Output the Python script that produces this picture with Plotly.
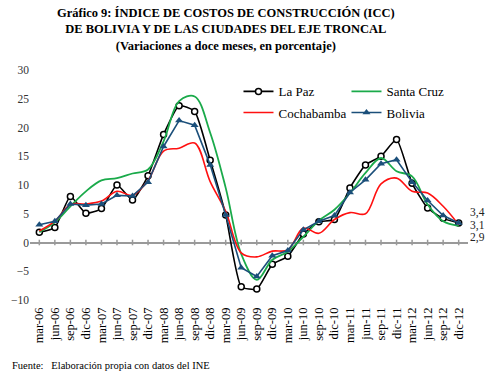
import plotly.graph_objects as go

periods = ["mar-06","jun-06","sep-06","dic-06","mar-07","jun-07","sep-07","dic-07",
           "mar-08","jun-08","sep-08","dic-08","mar-09","jun-09","sep-09","dic-09",
           "mar-10","jun-10","sep-10","dic-10","mar-11","jun-11","sep-11","dic-11",
           "mar-12","jun-12","sep-12","dic-12"]

la_paz = [1.8, 2.6, 8.0, 5.1, 5.9, 10.0, 7.4, 11.6, 18.8, 23.8, 22.8, 14.3, 4.8, -7.7,
          -8.1, -3.8, -2.4, 1.5, 3.6, 4.0, 9.5, 13.5, 15.0, 17.9, 10.3, 6.0, 4.2, 3.4]
santa_cruz = [1.8, 3.5, 6.3, 8.9, 10.8, 11.2, 12.0, 12.7, 17.6, 24.6, 25.4, 19.1, 9.5, -2.0,
              -6.5, -3.0, -1.6, 1.0, 3.8, 5.7, 8.6, 12.1, 14.7, 12.4, 11.5, 6.6, 3.7, 2.9]
cochabamba = [2.0, 3.7, 6.6, 6.7, 7.2, 8.9, 8.2, 10.8, 15.9, 16.4, 17.3, 10.6, 5.4, -1.8,
              -2.5, -1.5, -1.3, 2.5, 1.6, 4.0, 5.2, 5.0, 10.2, 11.2, 8.9, 8.6, 6.3, 3.1]
bolivia = [3.1, 3.7, 6.7, 6.5, 6.7, 8.2, 8.1, 10.5, 16.7, 21.2, 20.4, 13.5, 4.8, -4.4,
           -5.9, -2.3, -1.4, 2.2, 3.7, 4.7, 8.7, 10.9, 13.7, 14.4, 10.5, 7.3, 4.7, 3.4]

end_labels = ["3,4", "3,1", "2,9"]
y_ticks = [-10, -5, 0, 5, 10, 15, 20, 25, 30]

SERIF = "Liberation Serif, Times New Roman, serif"
idx = list(range(len(periods)))

fig = go.Figure()

# zero line tick marks
fig.add_trace(go.Scatter(x=idx, y=[0]*len(idx), mode="markers",
                         marker=dict(symbol="line-ns-open", size=4, color="#9a9a9a",
                                     line=dict(width=1.5, color="#9a9a9a")),
                         showlegend=False, hoverinfo="skip"))

fig.add_trace(go.Scatter(x=idx, y=la_paz, name="La Paz", mode="lines+markers", legend="legend",
                         line=dict(color="black", width=1.6, shape="spline", smoothing=0.5),
                         marker=dict(symbol="circle", size=6, color="white",
                                     line=dict(color="black", width=1.5))))
fig.add_trace(go.Scatter(x=idx, y=santa_cruz, name="Santa Cruz", mode="lines", legend="legend",
                         line=dict(color="#1aaa4a", width=1.8, shape="spline", smoothing=1.0)))
fig.add_trace(go.Scatter(x=idx, y=cochabamba, name="Cochabamba", mode="lines", legend="legend2",
                         line=dict(color="#ff1010", width=1.6, shape="spline", smoothing=1.0)))
fig.add_trace(go.Scatter(x=idx, y=bolivia, name="Bolivia", mode="lines+markers", legend="legend2",
                         line=dict(color="#1b4f7a", width=1.6),
                         marker=dict(symbol="triangle-up", size=7, color="#1b4f7a")))

# end labels
last = len(idx) - 1
for lab, ys in zip(end_labels, [10, -3, -15]):
    fig.add_annotation(x=last, y=bolivia[-1], text=lab, showarrow=False,
                       xanchor="left", xshift=9, yshift=ys,
                       font=dict(family=SERIF, size=11.5, color="#222"))

fig.add_annotation(xref="paper", yref="paper", x=0.447, y=1.176, xanchor="center", yanchor="middle",
                   text="<b>Gráfico 9: ÍNDICE DE COSTOS DE CONSTRUCCIÓN (ICC)<br>"
                        "DE BOLIVIA Y DE LAS CIUDADES DEL EJE TRONCAL<br>"
                        "(Variaciones a doce meses, en porcentaje)</b>",
                   showarrow=False, align="center",
                   font=dict(family=SERIF, size=12.5, color="black"))

fig.add_annotation(xref="paper", yref="paper", x=-0.046, y=-0.283, xanchor="left", yanchor="middle",
                   text="Fuente:   Elaboración propia con datos del INE", showarrow=False,
                   font=dict(family=SERIF, size=10.5, color="black"))

legend_common = dict(orientation="h", xanchor="left", yanchor="top", entrywidth=63,
                     font=dict(family=SERIF, size=13, color="black"),
                     bgcolor="rgba(0,0,0,0)", itemwidth=30)

fig.update_layout(
    width=490, height=372,
    margin=dict(l=30, r=22, t=70, b=72, autoexpand=False),
    paper_bgcolor="white", plot_bgcolor="white",
    showlegend=True,
    legend=dict(x=0.476, y=0.972, **legend_common),
    legend2=dict(x=0.476, y=0.88, **legend_common),
    xaxis=dict(tickmode="array", tickvals=idx, ticktext=periods, tickangle=-90,
               range=[-0.6, len(idx) - 0.4], showgrid=False, zeroline=False,
               showline=False, ticks="", ticklabelstandoff=4,
               tickfont=dict(family=SERIF, size=12.5, color="black")),
    yaxis=dict(range=[-10, 30], tickvals=y_ticks, showgrid=False, zeroline=True,
               zerolinecolor="#9a9a9a", zerolinewidth=2, showline=False, ticks="",
               tickfont=dict(family=SERIF, size=11.5, color="#333")),
)

fig.write_html("out.html", config={"displayModeBar": False},
               post_script="document.body.style.margin='0';")
